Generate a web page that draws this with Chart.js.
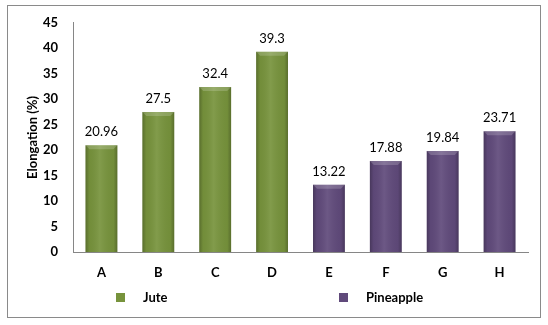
<!DOCTYPE html>
<html>
<head>
<meta charset="utf-8">
<script src="https://cdn.jsdelivr.net/npm/chart.js@4"></script>
<style>
html, body { margin: 0; padding: 0; background: #fff; }
#wrap { width: 548px; height: 325px; position: relative; }
</style>
</head>
<body>
<div id="wrap"><canvas id="chart"></canvas></div>
<script>
// data
var categories = ['A', 'B', 'C', 'D', 'E', 'F', 'G', 'H'];
var jute = [20.96, 27.5, 32.4, 39.3, null, null, null, null];
var pineapple = [null, null, null, null, 13.22, 17.88, 19.84, 23.71];
var seriesNames = ['Jute', 'Pineapple'];
var yMax = 45, yStep = 5;

var FONT = 'Lato, "Liberation Sans", sans-serif';

// outer frame around the whole chart
var framePlugin = {
    id: 'frame',
    beforeDraw: function(chart){
        var ctx = chart.ctx;
        ctx.save();
        ctx.fillStyle = '#fff';
        ctx.fillRect(0, 0, chart.width, chart.height);
        ctx.strokeStyle = '#8a8a8a';
        ctx.lineWidth = 1;
        ctx.strokeRect(7.5, 5.5, 533, 312);
        ctx.restore();
    }
};

// bevel-ish shading over the flat bars
var shadePlugin = {
    id: 'shade',
    afterDatasetsDraw: function(chart){
        var ctx = chart.ctx;
        chart.data.datasets.forEach(function(ds, di){
            var meta = chart.getDatasetMeta(di);
            meta.data.forEach(function(bar, i){
                if (ds.data[i] == null) return;
                var p = bar.getProps(['x', 'y', 'base', 'width'], true);
                var l = p.x - p.width / 2, r = p.x + p.width / 2;
                var g = ctx.createLinearGradient(l, 0, r, 0);
                g.addColorStop(0, 'rgba(0,0,0,0.25)');
                g.addColorStop(0.12, 'rgba(0,0,0,0.04)');
                g.addColorStop(0.45, 'rgba(255,255,255,0.08)');
                g.addColorStop(0.88, 'rgba(0,0,0,0.04)');
                g.addColorStop(1, 'rgba(0,0,0,0.25)');
                ctx.save();
                ctx.fillStyle = g;
                ctx.fillRect(l, p.y, p.width, p.base - p.y);
                // light cap on top
                ctx.fillStyle = 'rgba(255,255,255,0.18)';
                ctx.beginPath();
                ctx.moveTo(l, p.y);
                ctx.lineTo(r, p.y);
                ctx.lineTo(r - 4, p.y + 4);
                ctx.lineTo(l + 4, p.y + 4);
                ctx.closePath();
                ctx.fill();
                ctx.restore();
            });
        });
    }
};

// value labels above bars
var labelPlugin = {
    id: 'valueLabels',
    afterDatasetsDraw: function(chart){
        var ctx = chart.ctx;
        ctx.save();
        ctx.font = '13px ' + FONT;
        ctx.fillStyle = '#000';
        ctx.textAlign = 'center';
        ctx.textBaseline = 'middle';
        chart.data.datasets.forEach(function(ds, di){
            var meta = chart.getDatasetMeta(di);
            meta.data.forEach(function(bar, i){
                if (ds.data[i] == null) return;
                ctx.fillText(String(ds.data[i]), bar.x, bar.y - 13);
            });
        });
        ctx.restore();
    }
};

// legend spread like the original
var legendPlugin = {
    id: 'spreadLegend',
    afterDraw: function(chart){
        var ctx = chart.ctx;
        var boxX = [116, 339];
        ctx.save();
        ctx.font = 'bold 13px ' + FONT;
        ctx.textBaseline = 'middle';
        chart.data.datasets.forEach(function(ds, di){
            ctx.fillStyle = ds.backgroundColor;
            ctx.fillRect(boxX[di], 293, 9, 9);
            ctx.fillStyle = '#000';
            ctx.fillText(ds.label, boxX[di] + 27, 298);
        });
        ctx.restore();
    }
};

new Chart(document.getElementById('chart'), {
    type: 'bar',
    data: {
        labels: categories,
        datasets: [
            { label: seriesNames[0], data: jute, backgroundColor: '#77933C', borderWidth: 0 },
            { label: seriesNames[1], data: pineapple, backgroundColor: '#604A7B', borderWidth: 0 }
        ]
    },
    options: {
        responsive: true,
        maintainAspectRatio: false,
        animation: false,
        skipNull: true,
        categoryPercentage: 0.56,
        barPercentage: 1,
        layout: { padding: { left: 0, right: 20, top: 21, bottom: 0 } },
        plugins: {
            legend: { display: false },
            tooltip: { enabled: false }
        },
        scales: {
            x: {
                grid: { display: false, drawTicks: false },
                border: { display: true, color: '#868686' },
                ticks: { color: '#000', padding: 13, font: { family: FONT, size: 13, weight: 'bold' } },
                afterFit: function(s){ s.height = 73; }
            },
            y: {
                min: 0,
                max: yMax,
                grid: { display: false, drawTicks: false },
                border: { display: true, color: '#868686' },
                ticks: { stepSize: yStep, color: '#000', padding: 15, font: { family: FONT, size: 13, weight: 'bold' } },
                title: {
                    display: true,
                    text: 'Elongation (%)',
                    color: '#000',
                    font: { family: FONT, size: 13, weight: 'bold' },
                    padding: { top: 25, bottom: 0 }
                },
                afterFit: function(s){ s.width = 73; }
            }
        }
    },
    plugins: [framePlugin, shadePlugin, labelPlugin, legendPlugin]
});
</script>
</body>
</html>
